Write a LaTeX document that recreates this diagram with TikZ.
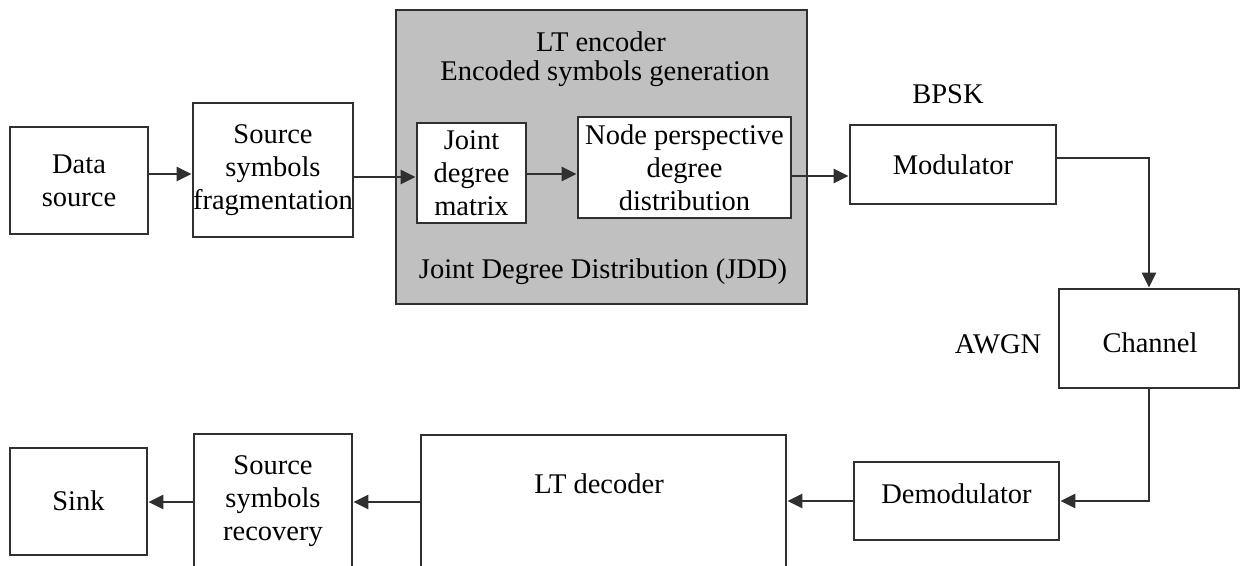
\documentclass[tikz,border=0pt]{standalone}
\usepackage{fontspec}
\setmainfont{Liberation Serif}
\usetikzlibrary{arrows.meta}
\definecolor{linec}{HTML}{303030}
\definecolor{grayfill}{HTML}{C0C0C0}
\begin{document}
\begin{tikzpicture}[x=1pt,y=-1pt,
  every node/.style={font=\fontsize{28.5}{33}\selectfont, text=black},
  blk/.style={draw=linec, line width=2.8pt, fill=white, align=center, inner sep=0pt},
  lbl/.style={inner sep=0pt},
  conn/.style={draw=linec, line width=2.8pt, -{Triangle[length=15pt,width=14pt]}}
]
\useasboundingbox (0,0) rectangle (1241,565);
\clip (0,0) rectangle (1241,565);
% encoder group
\node[blk, fill=grayfill, minimum width=411pt, minimum height=294pt] (enc) at (601.5,157) {};
\node[lbl] (enct1) at (601,42) {LT encoder};
\node[lbl] (enct2) at (605,74) {Encoded symbols generation};
\node[lbl] (enct3) at (603,272) {Joint Degree Distribution (JDD)};
\node[blk, minimum width=109pt, minimum height=100pt] (jdm) at (471.5,173) {Joint\\degree\\matrix};
\node[blk, minimum width=213pt, minimum height=101pt] (npd) at (684.5,167.5) {Node perspective\\degree\\distribution};
% top row
\node[blk, minimum width=138pt, minimum height=107pt] (ds) at (79,180.5) {Data\\source};
\node[blk, minimum width=160pt, minimum height=134pt] (ssf) at (273,170) {Source\\symbols\\fragmentation};
\node[blk, minimum width=206pt, minimum height=79pt] (mod) at (953,164.5) {Modulator};
\node[lbl] (bpsk) at (948,94) {BPSK};
% channel
\node[blk, minimum width=180pt, minimum height=99pt] (ch) at (1149,338.5) {};
\node[lbl] (cht) at (1150,343) {Channel};
\node[lbl] (awgn) at (998,344) {AWGN};
% bottom row
\node[blk, minimum width=205pt, minimum height=78pt] (dem) at (956.5,501) {};
\node[lbl] (demt) at (956.5,494) {Demodulator};
\node[blk, minimum width=365pt, minimum height=140pt] (ltd) at (603.5,505) {};
\node[lbl] (ltdt) at (599,484) {LT decoder};
\node[blk, minimum width=158pt, minimum height=141pt] (ssr) at (273,504.5) {};
\node[lbl, align=center] (ssrt) at (273,501) {Source\\symbols\\recovery};
\node[blk, minimum width=137pt, minimum height=107pt] (sink) at (78.5,501.5) {};
\node[lbl] (sinkt) at (78.5,501) {Sink};
% connectors
\draw[conn] (ds.east |- 0,174) -- (ssf.west |- 0,174);
\draw[conn] (ssf.east |- 0,177) -- (jdm.west |- 0,177);
\draw[conn] (jdm.east |- 0,174) -- (npd.west |- 0,174);
\draw[conn] (npd.east |- 0,176) -- (mod.west |- 0,176);
\draw[conn] (mod.east |- 0,158) -| (ch.north);
\draw[conn] (ch.south) |- (dem.east);
\draw[conn] (dem.west) -- (ltd.east |- dem.west);
\draw[conn] (ltd.west |- 0,502) -- (ssr.east |- 0,502);
\draw[conn] (ssr.west |- 0,502) -- (sink.east |- 0,502);
\end{tikzpicture}
\end{document}
